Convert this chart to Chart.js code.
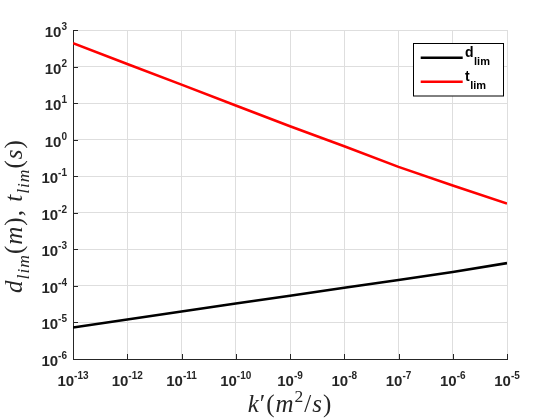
<!DOCTYPE html>
<html>
<head>
<meta charset="utf-8">
<script src="https://cdn.jsdelivr.net/npm/chart.js@4.4.1/dist/chart.umd.min.js"></script>
<style>
  html, body { margin: 0; padding: 0; background: #fff; }
  #wrap { width: 560px; height: 420px; }
</style>
</head>
<body>
<div id="wrap"><canvas id="limChart"></canvas></div>
<script>
// k' values (m^2/s) and the two limit curves
const kValues = [1e-13, 1e-12, 1e-11, 1e-10, 1e-9, 1e-8, 1e-7, 1e-6, 1e-5];
const dLim = [7.3e-6, 1.2e-5, 2.0e-5, 3.3e-5, 5.4e-5, 8.9e-5, 1.45e-4, 2.4e-4, 4.2e-4];
const tLim = [437, 117, 32, 8.6, 2.34, 0.66, 0.18, 0.056, 0.0178];
const seriesNames = ['d_lim', 't_lim'];

// tick exponents (labels are 10^e)
const xTickExps = [-13, -12, -11, -10, -9, -8, -7, -6, -5];
const yTickExps = [-6, -5, -4, -3, -2, -1, 0, 1, 2, 3];

const pow10 = e => Number('1e' + e);

const SANS = '"Liberation Sans", Arial, sans-serif';
const SERIF = '"Liberation Serif", "Times New Roman", serif';
const AXIS_COLOR = '#262626';
const GAP = 1; // extra spacing per glyph, latex math is looser than Times

// text runs (normal / italic / sub / sup)
function setRunFont(ctx, r, size) {
  const s = (r.sub || r.sup) ? size * 0.7 : size;
  ctx.font = (r.it ? 'italic ' : '') + s + 'px ' + SERIF;
}
function runsWidth(ctx, runs, size) {
  let w = 0;
  runs.forEach(r => {
    setRunFont(ctx, r, size);
    w += ctx.measureText(r.t).width + GAP * r.t.length;
  });
  return w;
}
function drawRuns(ctx, runs, x, y, size) {
  ctx.textAlign = 'left';
  ctx.textBaseline = 'alphabetic';
  runs.forEach(r => {
    setRunFont(ctx, r, size);
    let dy = 0;
    if (r.sub) dy = size * 0.26;
    if (r.sup) dy = -size * 0.4;
    for (const ch of r.t) {
      ctx.fillText(ch, x, y + dy);
      x += ctx.measureText(ch).width + GAP;
    }
  });
}

// "10" with a superscript exponent
function powLabel(ctx, exp, x, y, align) {
  ctx.textBaseline = 'alphabetic';
  ctx.textAlign = 'left';
  ctx.font = 'bold 15px ' + SANS;
  const wb = ctx.measureText('10').width;
  ctx.font = 'bold 10px ' + SANS;
  const ws = ctx.measureText(String(exp)).width;
  let left = align === 'right' ? x - wb - ws : x - (wb + ws) / 2;
  ctx.font = 'bold 15px ' + SANS;
  ctx.fillText('10', left, y);
  ctx.font = 'bold 10px ' + SANS;
  ctx.fillText(String(exp), left + wb, y - 7);
}

const axesPlugin = {
  id: 'matlabAxes',
  afterDraw(chart) {
    const ctx = chart.ctx;
    const area = chart.chartArea;
    const xs = chart.scales.x;
    const ys = chart.scales.y;
    ctx.save();
    ctx.fillStyle = '#262626';
    ctx.strokeStyle = AXIS_COLOR;
    ctx.lineWidth = 1;

    // inward tick marks
    ctx.beginPath();
    yTickExps.forEach(e => {
      const py = Math.round(ys.getPixelForValue(pow10(e))) + 0.5;
      ctx.moveTo(area.left, py);
      ctx.lineTo(area.left + 5, py);
    });
    xTickExps.forEach(e => {
      const px = Math.round(xs.getPixelForValue(pow10(e))) + 0.5;
      ctx.moveTo(px, area.bottom);
      ctx.lineTo(px, area.bottom - 5);
    });
    ctx.stroke();

    // tick labels
    yTickExps.forEach(e => {
      powLabel(ctx, e, area.left - 6, ys.getPixelForValue(pow10(e)) + 7, 'right');
    });
    xTickExps.forEach(e => {
      powLabel(ctx, e, xs.getPixelForValue(pow10(e)), area.bottom + 27, 'center');
    });

    // axis titles
    ctx.fillStyle = '#262626';
    const xTitle = [
      { t: 'k', it: 1 }, { t: '\u2032' }, { t: '(' }, { t: 'm', it: 1 },
      { t: '2', sup: 1 }, { t: '/' }, { t: 's', it: 1 }, { t: ')' }
    ];
    const xw = runsWidth(ctx, xTitle, 25);
    drawRuns(ctx, xTitle, (area.left + area.right) / 2 - xw / 2, 412, 25);

    const yTitle = [
      { t: 'd', it: 1 }, { t: 'lim', it: 1, sub: 1 }, { t: '(' }, { t: 'm', it: 1 },
      { t: ')' }, { t: ', ' }, { t: 't', it: 1 }, { t: 'lim', it: 1, sub: 1 },
      { t: '(' }, { t: 's', it: 1 }, { t: ')' }
    ];
    const yw = runsWidth(ctx, yTitle, 25);
    ctx.save();
    ctx.translate(22, 216);
    ctx.rotate(-Math.PI / 2);
    drawRuns(ctx, yTitle, -yw / 2, 0, 25);
    ctx.restore();

    // legend box
    ctx.fillStyle = '#fff';
    ctx.fillRect(413.5, 43.5, 90, 52.5);
    ctx.strokeStyle = '#000';
    ctx.lineWidth = 1;
    ctx.strokeRect(413.5, 43.5, 90, 52.5);
    chart.data.datasets.forEach((ds, i) => {
      const ly = 57.7 + i * 24;
      ctx.strokeStyle = ds.borderColor;
      ctx.lineWidth = 2.6;
      ctx.beginPath();
      ctx.moveTo(420.7, ly);
      ctx.lineTo(462.7, ly);
      ctx.stroke();
      const parts = ds.label.split('_');
      ctx.fillStyle = '#000';
      ctx.textAlign = 'left';
      ctx.textBaseline = 'alphabetic';
      ctx.font = 'bold 14px ' + SANS;
      ctx.fillText(parts[0], 465, ly - 1);
      const w0 = ctx.measureText(parts[0]).width;
      ctx.font = 'bold 11px ' + SANS;
      ctx.fillText(parts[1], 465 + w0 + 0.5, ly + 7);
    });
    ctx.restore();
  }
};

const ctx1 = document.getElementById('limChart').getContext('2d');
const limChart = new Chart(ctx1, {
  type: 'line',
  data: {
    datasets: [{
      label: seriesNames[0],
      data: kValues.map((k, i) => ({ x: k, y: dLim[i] })),
      borderColor: '#000000',
      borderWidth: 2.6,
      pointRadius: 0,
      tension: 0
    }, {
      label: seriesNames[1],
      data: kValues.map((k, i) => ({ x: k, y: tLim[i] })),
      borderColor: '#ff0000',
      borderWidth: 2.6,
      pointRadius: 0,
      tension: 0
    }]
  },
  options: {
    responsive: true,
    maintainAspectRatio: false,
    animation: false,
    layout: {
      padding: { left: 0, top: 30, right: 53, bottom: 0 }
    },
    scales: {
      x: {
        type: 'logarithmic',
        min: pow10(xTickExps[0]),
        max: pow10(xTickExps[xTickExps.length - 1]),
        afterBuildTicks: s => { s.ticks = xTickExps.map(e => ({ value: pow10(e) })); },
        afterFit: s => { s.height = 61; },
        ticks: { display: false },
        grid: { color: '#dedede', drawTicks: false },
        border: { color: AXIS_COLOR, width: 1 }
      },
      y: {
        type: 'logarithmic',
        min: pow10(yTickExps[0]),
        max: pow10(yTickExps[yTickExps.length - 1]),
        afterBuildTicks: s => { s.ticks = yTickExps.map(e => ({ value: pow10(e) })); },
        afterFit: s => { s.width = 73; },
        ticks: { display: false },
        grid: { color: '#dedede', drawTicks: false },
        border: { color: AXIS_COLOR, width: 1 }
      }
    },
    plugins: {
      legend: { display: false },
      tooltip: { enabled: false }
    }
  },
  plugins: [axesPlugin]
});
</script>
</body>
</html>
